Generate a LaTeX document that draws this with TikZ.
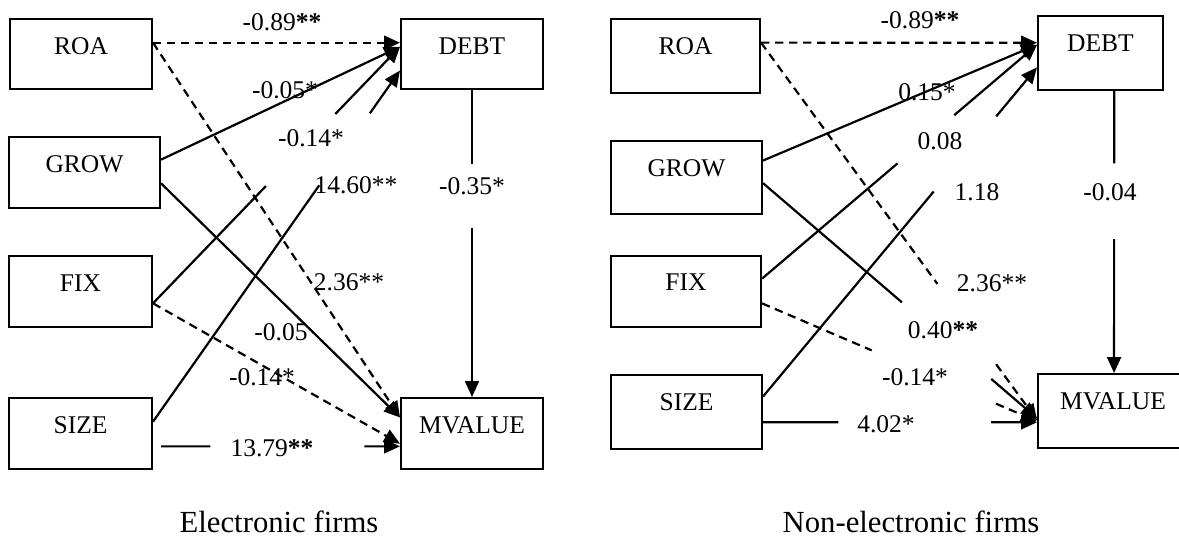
\documentclass[tikz,border=0pt]{standalone}
\usepackage{fontspec}
\setmainfont{Liberation Serif}
\usetikzlibrary{calc,arrows.meta}
\begin{document}
\begin{tikzpicture}[x=0.5pt,y=-0.5pt,
  box/.style={draw,line width=1pt,inner sep=0pt,font=\fontsize{12.75}{14}\selectfont,text height=8.45pt,text depth=8pt},
  boxr/.style={box,text depth=9.5pt},
  lab/.style={inner sep=0pt,font=\fontsize{12.75}{14}\selectfont,text height=8.6pt,text depth=0pt},
  capt/.style={inner sep=0pt,font=\fontsize{15.35}{18}\selectfont,text height=10.4pt,text depth=0pt},
  conn/.style={line width=1.1pt},
  arr/.style={conn,-{Triangle[length=8pt,width=7pt]}},
  dsh/.style={dash pattern=on 4.2pt off 2.8pt}]
\useasboundingbox (0,0) rectangle (1179,536);

% ---------- left panel ----------
\node[box,minimum width=71pt,minimum height=35pt] (lroa) at (81,54) {ROA};
\node[box,minimum width=75.5pt,minimum height=35.5pt] (lgrow) at (84.5,172.5) {GROW};
\node[box,minimum width=71.5pt,minimum height=35.5pt] (lfix) at (80.5,291.5) {FIX};
\node[box,minimum width=71.5pt,minimum height=35.5pt] (lsize) at (80.5,433.5) {SIZE};
\node[box,minimum width=71pt,minimum height=35pt] (ldebt) at (472,54) {DEBT};
\node[box,minimum width=71pt,minimum height=35.5pt] (lmv) at (472,433.5) {MVALUE};

\coordinate (lroaO) at ($(lroa.north east)!0.343!(lroa.south east)$);
\coordinate (lgrowA) at ($(lgrow.north east)!0.324!(lgrow.south east)$);
\coordinate (lgrowB) at ($(lgrow.north east)!0.648!(lgrow.south east)$);
\coordinate (lfixO) at ($(lfix.north east)!0.662!(lfix.south east)$);
\coordinate (lsizeA) at ($(lsize.north east)!0.338!(lsize.south east)$);
\coordinate (lsizeB) at ($(lsize.north east)!0.676!(lsize.south east)+(8,0)$);
\coordinate (ldebtA) at ($(ldebt.north west)!0.343!(ldebt.south west)$);
\coordinate (ldebtB) at ($(ldebt.north west)!0.4!(ldebt.south west)$);
\coordinate (ldebtC) at ($(ldebt.north west)!0.729!(ldebt.south west)$);
\coordinate (lmvA) at ($(lmv.north west)!0.28!(lmv.south west)$);
\coordinate (lmvB) at ($(lmv.north west)!0.64!(lmv.south west)$);
\coordinate (lmvC) at ($(lmv.north west)!0.676!(lmv.south west)$);

\draw[arr,dsh] (lroaO) -- (ldebtA);
\draw[arr,dsh] (lroaO) -- (lmvA);
\draw[arr] (lgrowA) -- (ldebtB);
\draw[arr] (lgrowB) -- (lmvA);
\draw[conn] (lfixO) -- ($(lfixO)!0.457!(ldebtB)$);
\draw[arr] ($(lfixO)!0.738!(ldebtB)$) -- (ldebtB);
\draw[arr,dsh] (lfixO) -- (lmvB);
\draw[conn] (lsizeA) -- ($(lsizeA)!0.673!(ldebtC)$);
\draw[arr] ($(lsizeA)!0.878!(ldebtC)$) -- (ldebtC);
\draw[conn] (lsizeB) -- ($(lsizeB)!0.207!(lmvC)$);
\draw[arr] ($(lsizeB)!0.851!(lmvC)$) -- (lmvC);
\draw[conn] (ldebt.south) -- ($(ldebt.south)!0.24!(lmv.north)$);
\draw[arr] ($(ldebt.south)!0.45!(lmv.north)$) -- (lmv.north);

\node[lab] (lt1) at (282,22) {-0.89\textbf{**}};
\node[lab] (lt2) at (285,90) {-0.05*};
\node[lab] (lt3) at (311,138) {-0.14*};
\node[lab] (lt4) at (356,185) {14.60**};
\node[lab] (lt5) at (472,186) {-0.35*};
\node[lab] (lt6) at (349,282) {2.36**};
\node[lab] (lt7) at (281,332) {-0.05};
\node[lab] (lt8) at (262,377) {-0.14*};
\node[lab] (lt9) at (272,448) {13.79\textbf{**}};
\node[capt] (lcap) at (279,522) {Electronic firms};

% ---------- right panel ----------
\node[boxr,minimum width=74.5pt,minimum height=37pt] (rroa) at (685.5,56) {ROA};
\node[boxr,minimum width=75.5pt,minimum height=36.5pt] (rgrow) at (686.5,177.5) {GROW};
\node[boxr,minimum width=75pt,minimum height=35.5pt] (rfix) at (686,291.5) {FIX};
\node[boxr,minimum width=75.5pt,minimum height=37pt] (rsize) at (686.5,412) {SIZE};
\node[boxr,minimum width=62.5pt,minimum height=37pt] (rdebt) at (1100.5,53) {DEBT};
\node[boxr,minimum width=75pt,minimum height=37pt] (rmv) at (1113,411) {MVALUE};

\coordinate (rroaO) at ($(rroa.north east)!0.324!(rroa.south east)$);
\coordinate (rgrowA) at ($(rgrow.north east)!0.274!(rgrow.south east)$);
\coordinate (rgrowB) at ($(rgrow.north east)!0.575!(rgrow.south east)$);
\coordinate (rfixA) at ($(rfix.north east)!0.324!(rfix.south east)$);
\coordinate (rfixB) at ($(rfix.north east)!0.662!(rfix.south east)$);
\coordinate (rsizeA) at ($(rsize.north east)!0.297!(rsize.south east)$);
\coordinate (rsizeB) at ($(rsize.north east)!0.635!(rsize.south east)$);
\coordinate (rdebtA) at ($(rdebt.north west)!0.365!(rdebt.south west)$);
\coordinate (rdebtB) at ($(rdebt.north west)!0.392!(rdebt.south west)$);
\coordinate (rdebtC) at ($(rdebt.north west)!0.689!(rdebt.south west)$);
\coordinate (rmvA) at ($(rmv.north west)!0.595!(rmv.south west)$);
\coordinate (rmvB) at ($(rmv.north west)!0.62!(rmv.south west)$);
\coordinate (rmvC) at ($(rmv.north west)!0.635!(rmv.south west)$);
\coordinate (rmvD) at ($(rmv.north west)!0.649!(rmv.south west)$);
\coordinate (rdebtS) at ($(rdebt.south west)!0.608!(rdebt.south east)$);
\coordinate (rmvN) at ($(rmv.north west)!0.507!(rmv.north east)$);

\draw[arr,dsh] (rroaO) -- (rdebtA);
\draw[conn,dsh] (rroaO) -- ($(rroaO)!0.639!(rmvB)$);
\draw[arr,dsh] ($(rroaO)!0.852!(rmvB)$) -- (rmvB);
\draw[arr] (rgrowA) -- (rdebtB);
\draw[conn] (rgrowB) -- ($(rgrowB)!0.507!(rmvA)$);
\draw[arr] ($(rgrowB)!0.833!(rmvA)$) -- (rmvA);
\draw[conn] (rfixA) -- ($(rfixA)!0.493!(rdebtB)$);
\draw[arr] ($(rfixA)!0.699!(rdebtB)$) -- (rdebtB);
\draw[conn,dsh] (rfixB) -- ($(rfixB)!0.399!(rmvC)$);
\draw[arr,dsh] ($(rfixB)!0.851!(rmvC)$) -- (rmvC);
\draw[conn] (rsizeA) -- ($(rsizeA)!0.623!(rdebtC)$);
\draw[arr] ($(rsizeA)!0.851!(rdebtC)$) -- (rdebtC);
\draw[conn] (rsizeB) -- ($(rsizeB)!0.275!(rmvD)$);
\draw[arr] ($(rsizeB)!0.833!(rmvD)$) -- (rmvD);
\draw[conn] (rdebtS) -- ($(rdebtS)!0.257!(rmvN)$);
\draw[arr] ($(rdebtS)!0.525!(rmvN)$) -- (rmvN);

\node[lab] (rt1) at (920,20) {-0.89\textbf{**}};
\node[lab] (rt2) at (927,92) {0.15*};
\node[lab] (rt3) at (940,141) {0.08};
\node[lab] (rt4) at (977,192) {1.18};
\node[lab] (rt5) at (1110,192) {-0.04};
\node[lab] (rt6) at (992,283) {2.36**};
\node[lab] (rt7) at (943,330) {0.40\textbf{**}};
\node[lab] (rt8) at (915,377) {-0.14*};
\node[lab] (rt9) at (886,424) {4.02*};
\node[capt] (rcap) at (911,522) {Non-electronic firms};
\end{tikzpicture}
\end{document}
